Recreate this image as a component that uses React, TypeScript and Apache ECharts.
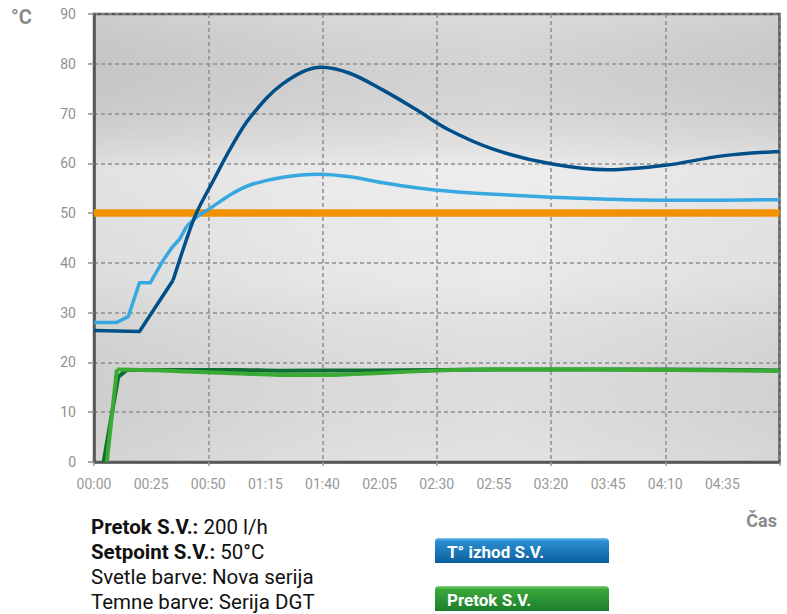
import React, { useEffect, useRef } from "react";
import * as echarts from "echarts";

// time in minutes, temperature in °C / flow
const xTicksMinutes = [0, 25, 50, 75, 100, 125, 150, 175, 200, 225, 250, 275];
const yTicks = [0, 10, 20, 30, 40, 50, 60, 70, 80, 90];

const setpoint: [number, number][] = [[0, 50], [300, 50]];

const lightBlueStart: [number, number][] = [
  [0, 28], [9.7, 28], [15, 29.2], [19.9, 36], [24.6, 36], [30.4, 40.6], [34, 43], [37.5, 44.8], [40.5, 47.3],
];
const lightBlueRest: [number, number][] = [
  [40.5, 47.3], [46, 49.6], [50, 50.7], [59.4, 53.6], [68, 55.6], [82.7, 57.2], [98.3, 57.8], [112, 57.3],
  [126.5, 56.1], [141, 55.1], [155.6, 54.4], [175, 53.8], [200, 53.2], [225, 52.8], [250, 52.6], [275, 52.6], [300, 52.7],
];

const darkBlueStart: [number, number][] = [
  [0, 26.4], [19.9, 26.2], [34.6, 36.5],
];
const darkBlueRest: [number, number][] = [
  [34.6, 36.5], [40.4, 44.6], [44.8, 50], [52.3, 56.6], [60, 63.2], [68.1, 69.1], [82.7, 76], [99.5, 79.3],
  [111.9, 78.1], [126.5, 74.7], [141, 70.8], [155, 66.8], [175, 62.8], [200, 59.9],
  [225, 58.7], [250, 59.6], [275, 61.5], [300, 62.4],
];

const darkGreenStart: [number, number][] = [[4.2, 0], [10.6, 17.1], [14.4, 18.5]];
const darkGreenRest: [number, number][] = [
  [14.4, 18.5], [40, 18.5], [63.8, 18.5], [81, 18.35], [120, 18.4], [151, 18.5], [200, 18.6], [250, 18.6], [300, 18.4],
];
const lightGreenStart: [number, number][] = [[5.6, 0], [10, 18.6]];
const lightGreenRest: [number, number][] = [
  [10, 18.6], [20, 18.5], [40, 18.2], [63.8, 17.8], [81, 17.5], [100, 17.5], [125, 17.9], [151, 18.4],
  [169, 18.6], [200, 18.6], [250, 18.5], [300, 18.3],
];

const legendItems = ["T° izhod S.V.", "Pretok S.V."];
const infoLines = [
  ["Pretok S.V.:", " 200 l/h"],
  ["Setpoint S.V.:", " 50°C"],
  ["", "Svetle barve: Nova serija"],
  ["", "Temne barve: Serija DGT"],
];

const pad = (n: number) => (n < 10 ? "0" + n : "" + n);
const fmt = (v: number) => pad(Math.floor(v / 60)) + ":" + pad(Math.round(v % 60));

const FONT = "Roboto, 'Noto Sans', sans-serif";

export default function App() {
  const ref = useRef<HTMLDivElement>(null);
  useEffect(() => {
    if (!ref.current) return;
    const chart = echarts.init(ref.current, undefined, { renderer: "svg" });
    const gridL = 94, gridT = 14, gridR = 779.5, gridB = 462;

    const lineSeries = (data: [number, number][], color: string, width: number, smooth: boolean | number, z: number) => ({
      type: "line",
      data,
      xAxisIndex: 0,
      yAxisIndex: 0,
      showSymbol: false,
      symbol: "none",
      smooth,
      z,
      lineStyle: { color, width, cap: "butt", join: "round" },
      silent: true,
    });

    const graphics: any[] = [
      {
        type: "rect",
        z: -10,
        silent: true,
        shape: { x: gridL, y: gridT, width: gridR - gridL, height: gridB - gridT },
        style: {
          fill: new echarts.graphic.LinearGradient(0, 0, 1, 0, [
            { offset: 0, color: "#d6d6d6" },
            { offset: 0.35, color: "#e2e2e2" },
            { offset: 0.6, color: "#e6e6e6" },
            { offset: 1, color: "#d9d9d9" },
          ]),
        },
      },
      {
        type: "rect",
        z: -9,
        silent: true,
        shape: { x: gridL, y: gridT, width: gridR - gridL, height: gridB - gridT },
        style: {
          fill: new echarts.graphic.LinearGradient(0, 0, 0, 1, [
            { offset: 0, color: "rgba(0,0,0,0.04)" },
            { offset: 0.35, color: "rgba(255,255,255,0.3)" },
            { offset: 0.6, color: "rgba(255,255,255,0.15)" },
            { offset: 1, color: "rgba(0,0,0,0.01)" },
          ]),
        },
      },
      {
        type: "text",
        style: { text: "°C", x: 11, y: 17, verticalAlign: "middle", font: `bold 20px ${FONT}`, fill: "#8a8a8a" },
      },
      {
        type: "text",
        style: { text: "Čas", x: 777, y: 520, align: "right", verticalAlign: "middle", font: `bold 18px ${FONT}`, fill: "#8a8a8a" },
      },
    ];

    const legendColors = [
      ["#7cc6ef", "#2a8fd0", "#0b5e9e"],
      ["#86d17a", "#3aa83a", "#1c7e2c"],
    ];
    const legendTops = [538, 586];
    legendItems.forEach((name, i) => {
      graphics.push({
        type: "rect",
        shape: { x: 435, y: legendTops[i], width: 174, height: 25, r: [4, 4, 0, 0] },
        style: {
          fill: new echarts.graphic.LinearGradient(0, 0, 0, 1, [
            { offset: 0, color: legendColors[i][0] },
            { offset: 0.12, color: legendColors[i][1] },
            { offset: 1, color: legendColors[i][2] },
          ]),
        },
      });
      graphics.push({
        type: "text",
        style: {
          text: name,
          x: 447,
          y: legendTops[i] + 13.5,
          verticalAlign: "middle",
          font: `bold 17px ${FONT}`,
          fill: "#ffffff",
        },
      });
    });

    infoLines.forEach((ln, i) => {
      graphics.push({
        type: "text",
        style: {
          text: (ln[0] ? "{b|" + ln[0] + "}" : "") + "{r|" + ln[1] + "}",
          x: 91,
          y: 527 + i * 25,
          verticalAlign: "middle",
          rich: {
            b: { fontFamily: "Roboto", fontWeight: "bold", fontSize: 20.5, fill: "#111", color: "#111" },
            r: { fontFamily: "Roboto", fontWeight: "normal", fontSize: 20.5, fill: "#111", color: "#111" },
          },
        },
      });
    });

    const option: any = {
      animation: false,
      textStyle: { fontFamily: FONT },
      grid: {
        show: true,
        left: gridL,
        top: gridT,
        right: 787 - gridR,
        bottom: 614 - gridB,
        backgroundColor: "transparent",
        borderColor: "#555",
        borderWidth: 2.5,
      },
      xAxis: [
        {
          type: "value",
          min: 0,
          max: 300,
          interval: 25,
          axisLine: { show: true, lineStyle: { color: "#555", width: 2.5 } },
          axisTick: { show: false },
          splitLine: { show: false },
          axisLabel: {
            color: "#999",
            fontSize: 14,
            margin: 15,
            showMaxLabel: false,
            formatter: (v: number) => (xTicksMinutes.includes(v) ? fmt(v) : ""),
          },
        },
        {
          type: "value",
          min: 0,
          max: 300,
          interval: 50,
          position: "bottom",
          axisLine: { show: false },
          axisLabel: { show: false },
          axisTick: { show: true, length: 5, lineStyle: { color: "#999", width: 1.5, type: [4, 3] } },
          splitLine: { show: true, lineStyle: { color: "#8f8f8f", width: 1.5, type: [4, 3] } },
        },
      ],
      yAxis: {
        type: "value",
        min: 0,
        max: 90,
        interval: 10,
        axisLine: { show: true, lineStyle: { color: "#555", width: 2.5 } },
        axisTick: { show: true, length: 6, lineStyle: { color: "#8f8f8f", width: 1.5 } },
        splitLine: { show: true, lineStyle: { color: "#8f8f8f", width: 1.5, type: [4, 3] } },
        axisLabel: {
          color: "#8f8f8f",
          fontSize: 14,
          margin: 18,
          formatter: (v: number) => (yTicks.includes(v) ? String(v) : ""),
        },
      },
      series: [
        lineSeries(setpoint, "#f39200", 7.5, false, 2),
        lineSeries(lightBlueStart, "#37a8e0", 3.5, false, 3),
        lineSeries(lightBlueRest, "#37a8e0", 3.5, 0.35, 3),
        lineSeries(darkBlueStart, "#004f88", 3.5, false, 4),
        lineSeries(darkBlueRest, "#004f88", 3.5, 0.35, 4),
        lineSeries(darkGreenStart, "#0e6e33", 4, false, 3),
        lineSeries(darkGreenRest, "#0e6e33", 4, 0.35, 3),
        lineSeries(lightGreenStart, "#3aaa35", 4, false, 4),
        lineSeries(lightGreenRest, "#3aaa35", 4, 0.35, 4),
      ],
      graphic: { elements: graphics },
    };
    chart.setOption(option);
    return () => chart.dispose();
  }, []);
  return (
    <div
      ref={ref}
      style={{ position: "fixed", left: 0, top: 0, width: 787, height: 614, background: "#fff" }}
    />
  );
}
